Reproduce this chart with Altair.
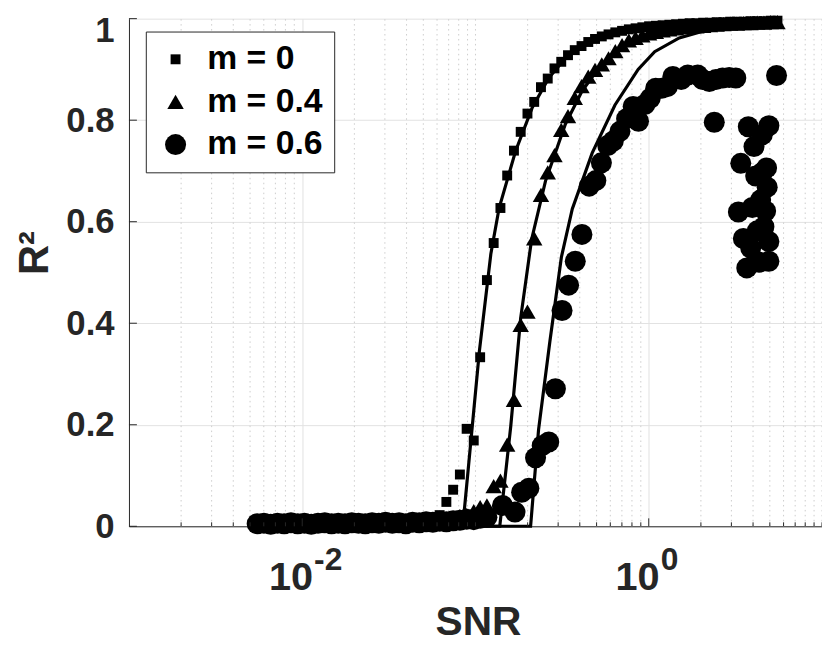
import altair as alt
import pandas as pd

FONT = "Liberation Sans"
INK = "#262626"

# ---- data ----
SNR = [0.005495, 0.006012, 0.006577, 0.007194, 0.007870, 0.008610, 0.009419, 0.010304, 0.011272, 0.012331,
       0.013490, 0.014757, 0.016144, 0.017660, 0.019320, 0.021135, 0.023121, 0.025293, 0.027669, 0.030269,
       0.033113, 0.036224, 0.039628, 0.043351, 0.047424, 0.051880, 0.056754, 0.062087, 0.067920, 0.074302,
       0.081283, 0.088920, 0.097724, 0.10641, 0.11641, 0.12735, 0.13932, 0.15241, 0.16673, 0.18239,
       0.19953, 0.21827, 0.23878, 0.26122, 0.28576, 0.31261, 0.34198, 0.37411, 0.40926, 0.44771,
       0.48978, 0.53580, 0.58614, 0.64121, 0.70146, 0.76736, 0.83946, 0.91833, 1.0046, 1.0990,
       1.2023, 1.3152, 1.4388, 1.5740, 1.7219, 1.8836, 2.0606, 2.2542, 2.4660, 2.6977,
       2.9512, 3.2285, 3.5318, 3.8637, 4.2267, 4.6238, 5.0582, 5.5335]

R2_M0 = [0.006, 0.005, 0.007, 0.005, 0.006, 0.006, 0.005, 0.007, 0.006, 0.005,
         0.006, 0.007, 0.006, 0.005, 0.006, 0.007, 0.006, 0.006, 0.007, 0.005,
         0.006, 0.007, 0.006, 0.008, 0.007, 0.010, 0.014, 0.022,
         0.048, 0.072, 0.102, 0.192, 0.169, 0.333, 0.485, 0.558, 0.627, 0.691,
         0.740, 0.777, 0.813, 0.836, 0.865, 0.882, 0.902, 0.915, 0.928, 0.938,
         0.946, 0.954, 0.960, 0.965, 0.969, 0.973, 0.976, 0.979, 0.981, 0.983,
         0.985, 0.986, 0.987, 0.988, 0.989, 0.990, 0.991, 0.991, 0.992, 0.992,
         0.993, 0.993, 0.994, 0.994, 0.994, 0.995, 0.995, 0.995, 0.996, 0.996]

R2_M04 = [0.007, 0.006, 0.008, 0.007, 0.006, 0.008, 0.007, 0.009, 0.007, 0.008,
          0.006, 0.008, 0.009, 0.007, 0.008, 0.010, 0.008, 0.009, 0.007, 0.010,
          0.009, 0.008, 0.010, 0.011, 0.009, 0.012, 0.011, 0.013, 0.012, 0.015,
          0.020, 0.022, 0.030,
          0.038, 0.041, 0.079, 0.090, 0.161, 0.249, 0.397, 0.423, 0.567, 0.653,
          0.697, 0.731, 0.781, 0.808, 0.844, 0.867, 0.886, 0.899, 0.910, 0.922,
          0.936, 0.948, 0.957, 0.962, 0.967, 0.971, 0.974, 0.977, 0.979, 0.981,
          0.983, 0.984, 0.985, 0.986, 0.987, 0.988, 0.989, 0.990, 0.990, 0.991,
          0.991, 0.992, 0.992, 0.993, 0.993]

M06_FLAT_R2 = [0.005, 0.006, 0.004, 0.006, 0.005, 0.007, 0.005, 0.006, 0.004, 0.006,
               0.007, 0.005, 0.006, 0.005, 0.007, 0.006, 0.005, 0.007, 0.006, 0.008,
               0.006, 0.007, 0.005, 0.008, 0.007, 0.009, 0.008, 0.010, 0.009, 0.011,
               0.012, 0.014, 0.013, 0.016, 0.018]
M06_SNR = SNR[:35] + [
    0.1432, 0.1691, 0.1847, 0.2033, 0.2222, 0.2427, 0.2648, 0.2892, 0.3160, 0.3447,
    0.3766, 0.4115, 0.4531, 0.4950, 0.5329, 0.5799, 0.6244, 0.6820, 0.7452, 0.8128,
    0.8730, 0.9486, 1.020, 1.097, 1.187, 1.280, 1.378, 1.539, 1.680, 1.917,
    2.048, 2.237, 2.443, 2.666, 2.912, 3.181, 5.465, 2.389, 3.756, 4.936,
    4.519, 4.050, 3.398, 4.788, 4.519, 4.142, 4.827, 4.424, 3.960, 3.292,
    4.726, 4.621, 4.230, 3.517, 4.936, 3.877, 4.326, 4.936, 3.679]
M06_R2 = M06_FLAT_R2 + [
    0.041, 0.028, 0.067, 0.075, 0.135, 0.159, 0.166, 0.271, 0.425, 0.475,
    0.522, 0.575, 0.670, 0.681, 0.716, 0.750, 0.759, 0.778, 0.803, 0.827,
    0.798, 0.831, 0.843, 0.863, 0.863, 0.866, 0.886, 0.880, 0.889, 0.889,
    0.880, 0.876, 0.880, 0.883, 0.884, 0.883, 0.888, 0.796, 0.787, 0.789,
    0.771, 0.748, 0.715, 0.706, 0.697, 0.690, 0.668, 0.643, 0.628, 0.619,
    0.621, 0.590, 0.582, 0.567, 0.561, 0.548, 0.520, 0.522, 0.509]

FIT0_SNR = [0.0055, 0.0845, 0.0954, 0.1054, 0.1227, 0.1369, 0.1707, 0.2128, 0.2648, 0.3301,
            0.4115, 0.6385, 1.0, 1.835, 3.549, 5.53]
FIT0_R2 = [0, 0, 0.19, 0.346, 0.537, 0.627, 0.740, 0.825, 0.883, 0.922,
           0.948, 0.972, 0.985, 0.993, 0.997, 0.998]
FIT1_SNR = [0.0055, 0.1381, 0.1598, 0.1823, 0.2108, 0.2535, 0.3301, 0.4115, 0.5123, 0.6385,
            0.7962, 1.036, 1.835, 3.549, 5.53]
FIT1_R2 = [0, 0, 0.197, 0.41, 0.565, 0.68, 0.792, 0.857, 0.902, 0.935,
           0.954, 0.972, 0.986, 0.992, 0.995]
FIT2_SNR = [0.0055, 0.2080, 0.2312, 0.2690, 0.3131, 0.3620, 0.4714, 0.6385, 0.8685, 1.082,
            1.50, 2.2, 3.5, 5.53]
FIT2_R2 = [0, 0, 0.19, 0.365, 0.53, 0.625, 0.735, 0.83, 0.9, 0.935,
           0.962, 0.978, 0.988, 0.993]

SERIES = ["m = 0", "m = 0.4", "m = 0.6"]
SHAPES = ["square", "triangle-up", "circle"]
SIZES = [100, 450, 180]

XTICK_MAJOR = [0.01, 1]
XTICK_BASE = ["10", "10"]
XTICK_EXP = ["-2", "0"]
XTICK_MINOR = [0.002, 0.003, 0.004, 0.005, 0.006, 0.007, 0.008, 0.009,
               0.02, 0.03, 0.04, 0.05, 0.06, 0.07, 0.08, 0.09, 0.1,
               0.2, 0.3, 0.4, 0.5, 0.6, 0.7, 0.8, 0.9,
               2, 3, 4, 5, 6, 7, 8, 9, 10]
YTICKS = [0, 0.2, 0.4, 0.6, 0.8, 1]

# ---- tables ----
pts = pd.concat([
    pd.DataFrame({"snr": SNR, "r2": R2_M0, "series": SERIES[0]}),
    pd.DataFrame({"snr": SNR, "r2": R2_M04, "series": SERIES[1]}),
    pd.DataFrame({"snr": M06_SNR, "r2": M06_R2, "series": SERIES[2]}),
], ignore_index=True)
fits = pd.concat([
    pd.DataFrame({"snr": FIT0_SNR, "r2": FIT0_R2, "fit": "f0"}),
    pd.DataFrame({"snr": FIT1_SNR, "r2": FIT1_R2, "fit": "f1"}),
    pd.DataFrame({"snr": FIT2_SNR, "r2": FIT2_R2, "fit": "f2"}),
], ignore_index=True)
xmaj = pd.DataFrame({"v": XTICK_MAJOR, "base": XTICK_BASE, "exp": XTICK_EXP})
xmin = pd.DataFrame({"v": XTICK_MINOR})
ytk = pd.DataFrame({"v": YTICKS})

PLOT_H = 512

x_scale = alt.Scale(type="log", domain=[0.001, 10], nice=False)
y_scale = alt.Scale(domain=[0, 1], nice=False, zero=False)

x_axis = alt.Axis(values=XTICK_MAJOR, labels=False, ticks=False, domain=True,
                  domainColor=INK, domainWidth=1, grid=True, gridColor="#e2e2e2", gridWidth=1,
                  title="SNR", titleFont=FONT, titleFontSize=41, titleFontWeight="bold",
                  titleColor=INK, titleX=352, titleY=109, titleAlign="center",
                  titleBaseline="alphabetic")
y_axis = alt.Axis(values=YTICKS, format="~g", labelFont=FONT, labelFontSize=35,
                  labelFontWeight="bold", labelColor=INK, labelPadding=15, ticks=False,
                  labelOffset={"condition": {"test": "datum.value == 1", "value": 12}, "value": 0},
                  tickSize=0, domain=True, domainColor=INK, domainWidth=1, grid=True,
                  gridColor="#e2e2e2", gridWidth=1, title="R²", titleFont=FONT,
                  titleFontSize=42, titleFontWeight="bold", titleColor=INK, titleAngle=270,
                  titleX=-82, titleY=236, titleAlign="center", titleBaseline="alphabetic")

legend = alt.Legend(title=None, orient="none", legendX=17, legendY=13, direction="vertical",
                    labelFont=FONT, labelFontSize=34, labelFontWeight="bold", labelColor="black",
                    labelOffset=15, symbolOffset=2, padding=11, rowPadding=9,
                    strokeColor=INK, fillColor="white", symbolFillColor="black",
                    symbolStrokeWidth=0)

minor_grid = alt.Chart(xmin).mark_rule(color="#cccccc", strokeDash=[1.5, 3.5], strokeWidth=1).encode(
    x=alt.X("v:Q", scale=x_scale, axis=x_axis),
    y=alt.YDatum(0, scale=y_scale, axis=y_axis),
    y2=alt.Y2Datum(1),
)

lines = alt.Chart(fits).mark_line(color="black", strokeWidth=3.2).encode(
    x=alt.X("snr:Q", scale=x_scale, axis=x_axis),
    y=alt.Y("r2:Q", scale=y_scale, axis=y_axis),
    detail="fit:N",
)

points = alt.Chart(pts).mark_point(filled=True, opacity=1, color="black", strokeWidth=0).encode(
    x=alt.X("snr:Q", scale=x_scale, axis=x_axis),
    y=alt.Y("r2:Q", scale=y_scale, axis=y_axis),
    shape=alt.Shape("series:N", scale=alt.Scale(domain=SERIES, range=SHAPES), legend=legend),
    size=alt.Size("series:N", scale=alt.Scale(domain=SERIES, range=SIZES), legend=legend),
)

xmaj_ticks = alt.Chart(xmaj).mark_rule(color=INK, strokeWidth=1).encode(
    x=alt.X("v:Q", scale=x_scale, axis=x_axis), y=alt.value(PLOT_H), y2=alt.value(PLOT_H - 8))
xmin_ticks = alt.Chart(xmin).mark_rule(color=INK, strokeWidth=1).encode(
    x=alt.X("v:Q", scale=x_scale, axis=x_axis), y=alt.value(PLOT_H), y2=alt.value(PLOT_H - 4))
y_ticks = alt.Chart(ytk).mark_rule(color=INK, strokeWidth=1).encode(
    y=alt.Y("v:Q", scale=y_scale, axis=y_axis), x=alt.value(0), x2=alt.value(8))

xlab_base = alt.Chart(xmaj).mark_text(font=FONT, fontSize=40, fontWeight="bold", color=INK,
                                      align="right", baseline="alphabetic", dx=11).encode(
    x=alt.X("v:Q", scale=x_scale, axis=x_axis), y=alt.value(576), text="base:N")
xlab_exp = alt.Chart(xmaj).mark_text(font=FONT, fontSize=32, fontWeight="bold", color=INK,
                                     align="left", baseline="alphabetic", dx=12).encode(
    x=alt.X("v:Q", scale=x_scale, axis=x_axis), y=alt.value(556), text="exp:N")

chart = alt.layer(
    minor_grid, lines, points, xmaj_ticks, xmin_ticks, y_ticks, xlab_base, xlab_exp
).properties(
    width=699, height=PLOT_H,
    padding={"left": 122, "top": 8, "right": 0, "bottom": 118},
    autosize=alt.AutoSizeParams(type="none"),
    background="white",
).configure_view(strokeWidth=0)

chart.save("out.html", embed_options={"renderer": "svg", "actions": False})
